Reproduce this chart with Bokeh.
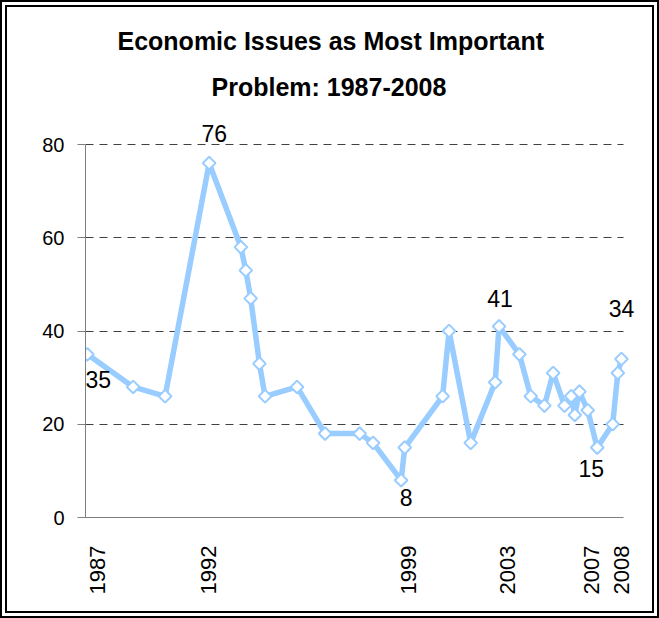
import math

from bokeh.embed import file_html
from bokeh.models import ColumnDataSource, FixedTicker, Label, Title
from bokeh.plotting import figure
from bokeh.resources import INLINE

# Survey dates (decimal years) and share naming economic issues as the
# most important problem (%)
dates = [1987.27, 1989.05, 1990.29, 1992.00, 1993.23, 1993.42, 1993.61, 1993.95,
         1994.17, 1995.41, 1996.50, 1997.84, 1998.36, 1999.45, 1999.59, 2001.06,
         2001.31, 2002.15, 2003.10, 2003.25, 2004.04, 2004.48, 2005.01, 2005.35,
         2005.79, 2006.05, 2006.19, 2006.37, 2006.69, 2007.06, 2007.66, 2007.86,
         2008.00]
pct = [35, 28, 26, 76, 58, 53, 47, 33, 26, 28, 18, 18, 16, 8, 15, 26, 40, 16,
       29, 41, 35, 26, 24, 31, 24, 26, 22, 27, 23, 15, 20, 31, 34]

# Points that carry a value label
labeled_idx = [0, 3, 13, 19, 29, 32]

# Year labels along the bottom axis
tick_labels = ["1987", "1992", "1999", "2003", "2007", "2008"]
tick_pos = [1987.68, 1991.97, 1999.72, 2003.59, 2006.82, 2008.00]

y_ticks = [0, 20, 40, 60, 80]

title_lines = ["Economic Issues as Most Important", "Problem: 1987-2008"]

# axis extents; the plotting area is a little larger so that the value
# labels near the top and right edge are not cut off
X_AXIS = (1987.20, 2008.08)
Y_AXIS = (0, 80)

# label placement relative to its point, in pixels (right, up)
label_dx = [11, 5, 5, 1, -6, 0]
label_dy = [-25, 30, -17, 28, -21, 50]

LINE_BLUE = "#99CCFF"
W, H = 659, 618

p = figure(
    width=W, height=H,
    x_range=(X_AXIS[0], 2008.74), y_range=(Y_AXIS[0], 85.58),
    output_backend="svg", toolbar_location=None,
    min_border_left=78, min_border_right=26,
    min_border_top=111, min_border_bottom=108,
    background_fill_color=None, border_fill_color=None,
    outline_line_color=None,
)
# double frame around the whole chart
p.styles = {"border": "7px double black", "background-color": "white"}

# title: lower line first, the upper one stacks above it
line2 = Title(text=title_lines[1], align="left", offset=126, standoff=35,
              text_font="Liberation Sans", text_font_size="25px",
              text_font_style="bold", text_color="black")
line1 = Title(text=title_lines[0], align="left", offset=32, standoff=-2,
              text_font="Liberation Sans", text_font_size="25px",
              text_font_style="bold", text_color="black")
p.title = None
p.add_layout(line2, "above")
p.add_layout(line1, "above")

# y axis
p.yaxis.ticker = FixedTicker(ticks=y_ticks)
p.yaxis.bounds = Y_AXIS
p.yaxis.axis_line_color = "#7f7f7f"
p.yaxis.major_tick_line_color = "#7f7f7f"
p.yaxis.major_tick_out = 8
p.yaxis.major_tick_in = 0
p.yaxis.minor_tick_line_color = None
p.yaxis.major_label_standoff = 13
p.yaxis.major_label_text_font = "Liberation Sans"
p.yaxis.major_label_text_font_size = "20px"
p.yaxis.major_label_text_color = "black"

# x axis
p.xaxis.ticker = FixedTicker(ticks=tick_pos)
p.xaxis.bounds = X_AXIS
p.xaxis.major_label_overrides = {t: s for t, s in zip(tick_pos, tick_labels)}
p.xaxis.axis_line_color = "#7f7f7f"
p.xaxis.major_tick_line_color = None
p.xaxis.minor_tick_line_color = None
p.xaxis.major_tick_out = 0
p.xaxis.major_tick_in = 0
p.xaxis.major_label_orientation = math.pi / 2
p.xaxis.major_label_standoff = 28
p.xaxis.major_label_text_font = "Liberation Sans"
p.xaxis.major_label_text_font_size = "22px"
p.xaxis.major_label_text_color = "black"

# grid
p.xgrid.grid_line_color = None
p.ygrid.ticker = FixedTicker(ticks=y_ticks)
p.ygrid.cross_bounds = X_AXIS
p.ygrid.grid_line_color = "#404040"
p.ygrid.grid_line_dash = "8 6"
p.ygrid.grid_line_width = 1

src = ColumnDataSource(data=dict(x=dates, y=pct))
p.line("x", "y", source=src, line_color=LINE_BLUE, line_width=5.5, line_join="round")
p.scatter("x", "y", source=src, marker="square", angle=math.pi / 4, size=9,
          fill_color="white", line_color=LINE_BLUE, line_width=2)

# value labels on selected points
for i, dx, dy in zip(labeled_idx, label_dx, label_dy):
    p.add_layout(Label(
        x=dates[i], y=pct[i], text=str(pct[i]),
        x_offset=dx, y_offset=dy,
        text_align="center", text_baseline="middle",
        text_font="Liberation Sans", text_font_size="23px",
        text_color="black",
    ))

open("out.html", "w").write(file_html(p, INLINE))
